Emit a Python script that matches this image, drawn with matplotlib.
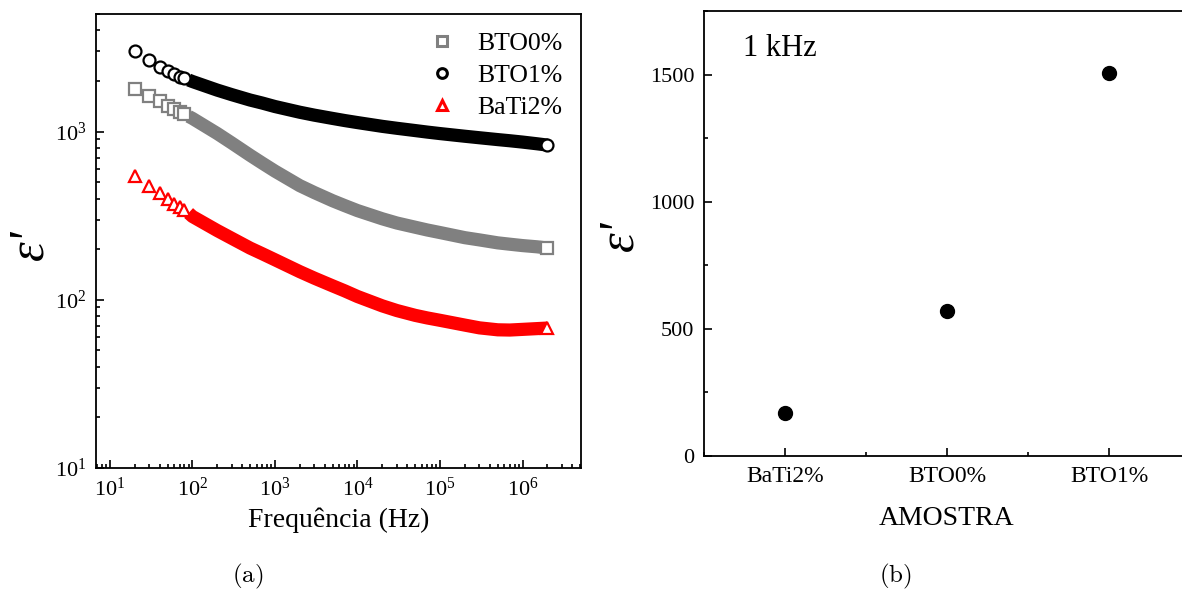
import matplotlib
matplotlib.use("Agg")
import matplotlib.pyplot as plt
import matplotlib.ticker as mticker
import numpy as np

plt.rcParams["font.family"] = ["Liberation Serif", "DejaVu Serif"]
plt.rcParams["mathtext.fontset"] = "stix"

# ---- data: (a) permittivity vs frequency ----
freq = [20, 30, 40, 50, 60, 70, 80, 90, 100, 200, 300, 500, 700,
        1e3, 2e3, 3e3, 5e3, 7e3, 1e4, 2e4, 3e4, 5e4, 7e4,
        1e5, 2e5, 3e5, 5e5, 7e5, 1e6, 1.5e6, 2e6]

bto0 = [1803, 1622, 1514, 1428, 1365, 1315, 1271, 1231, 1198, 974, 855, 723,
        650, 582, 477, 434, 388, 363, 339, 303, 286, 270, 260,
        251, 234, 227, 218, 214, 210, 206.5, 203]

bto1 = [2993, 2647, 2414, 2291, 2198, 2125, 2068, 2026, 1985, 1764, 1658,
        1540, 1478, 1409, 1303, 1252, 1197, 1163, 1131, 1074, 1046, 1014, 993,
        973, 938, 919, 896, 882, 866, 846, 831]

bati2 = [542, 477, 432, 398, 373, 356, 340, 328, 313, 258, 232, 203, 188,
         173, 147, 134.5, 121, 113, 104.6, 92, 86.3, 80.8, 78,
         75.5, 70.7, 68.1, 66.3, 66.1, 66.7, 67.4, 67.9]

# ---- data: (b) permittivity at 1 kHz ----
samples = ["BaTi2%", "BTO0%", "BTO1%"]
eps_1khz = [170, 571, 1508]

series = [
    ("BTO0%", bto0, "s", "#808080"),
    ("BTO1%", bto1, "o", "black"),
    ("BaTi2%", bati2, "^", "red"),
]

W, H = 1182, 589
fig = plt.figure(figsize=(W / 100, H / 100), dpi=100)

ax1 = fig.add_axes([96 / W, 1 - 468 / H, (581 - 96) / W, (468 - 14) / H])
ax2 = fig.add_axes([704 / W, 1 - 456 / H, (1190 - 704) / W, (456 - 11) / H])

f = np.array(freq)
dense = f >= 90
sparse = (f < 90) | (f == f[-1])
handles = []
for label, vals, mk, col in series:
    v = np.array(vals)
    # dense measurement region -> solid band of overlapping markers
    ax1.plot(f[dense], v[dense], "-", color=col, lw=9.5,
             solid_capstyle="butt", solid_joinstyle="round", zorder=2)
    ax1.plot(f[sparse], v[sparse], ls="none", marker=mk, ms=8.6, mfc="white",
             mec=col, mew=1.6, zorder=3)
    h, = ax1.plot([], [], ls="none", marker=mk, ms=7, mfc="white", mec=col,
                  mew=2.2, label=label)
    handles.append(h)

ax1.set_xscale("log")
ax1.set_yscale("log")
ax1.set_xlim(6.8, 5.1e6)
ax1.set_ylim(10, 5000)
ax1.xaxis.set_major_locator(mticker.LogLocator(base=10, numticks=12))
ax1.xaxis.set_minor_locator(mticker.LogLocator(base=10, subs=np.arange(2, 10), numticks=12))
ax1.yaxis.set_minor_locator(mticker.LogLocator(base=10, subs=np.arange(2, 10), numticks=12))
ax1.xaxis.set_minor_formatter(mticker.NullFormatter())
ax1.yaxis.set_minor_formatter(mticker.NullFormatter())
ax1.tick_params(which="both", direction="in", top=False, right=False,
                width=1.2, labelsize=16, pad=7)
ax1.tick_params(which="major", length=5.5)
ax1.tick_params(which="minor", length=3)
ax1.set_xlabel("Frequência (Hz)", fontsize=20, labelpad=5)

ax1.legend(handles=handles, loc="upper right", frameon=False,
           fontsize=18.5, handlelength=1.0, handletextpad=0.9,
           labelspacing=0.35, borderaxespad=0.3)

ax2.plot(samples, eps_1khz, ls="none", marker="o", ms=10, color="black")
ax2.set_xlim(-0.5, 2.5)
ax2.set_ylim(0, 1750)
ax2.yaxis.set_major_locator(mticker.MultipleLocator(500))
ax2.yaxis.set_minor_locator(mticker.MultipleLocator(250))
ax2.xaxis.set_minor_locator(mticker.MultipleLocator(0.5))
ax2.tick_params(which="both", direction="in", top=False, right=False,
                width=1.2, pad=7)
ax2.tick_params(which="major", length=5.5)
ax2.tick_params(which="minor", length=3)
ax2.tick_params(axis="y", labelsize=16)
ax2.tick_params(axis="x", labelsize=17)
ax2.set_xlabel("AMOSTRA", fontsize=20, labelpad=14)
ax2.text(0.08, 0.915, "1 kHz", transform=ax2.transAxes, fontsize=22,
         va="center", ha="left")

for ax in (ax1, ax2):
    for s in ax.spines.values():
        s.set_linewidth(1.3)

# y labels (epsilon prime), rotated
for x, y in ((30, 245), (620, 236)):
    fig.text(x / W, 1 - y / H, "ε'", fontsize=36, style="italic",
             rotation=90, ha="center", va="center")

fig.text(248 / W, 1 - 576 / H, r"$\mathrm{(a)}$", math_fontfamily="cm",
         fontsize=18, ha="center", va="center")
fig.text(895 / W, 1 - 576 / H, r"$\mathrm{(b)}$", math_fontfamily="cm",
         fontsize=18, ha="center", va="center")

fig.savefig("out.png", dpi=100)
